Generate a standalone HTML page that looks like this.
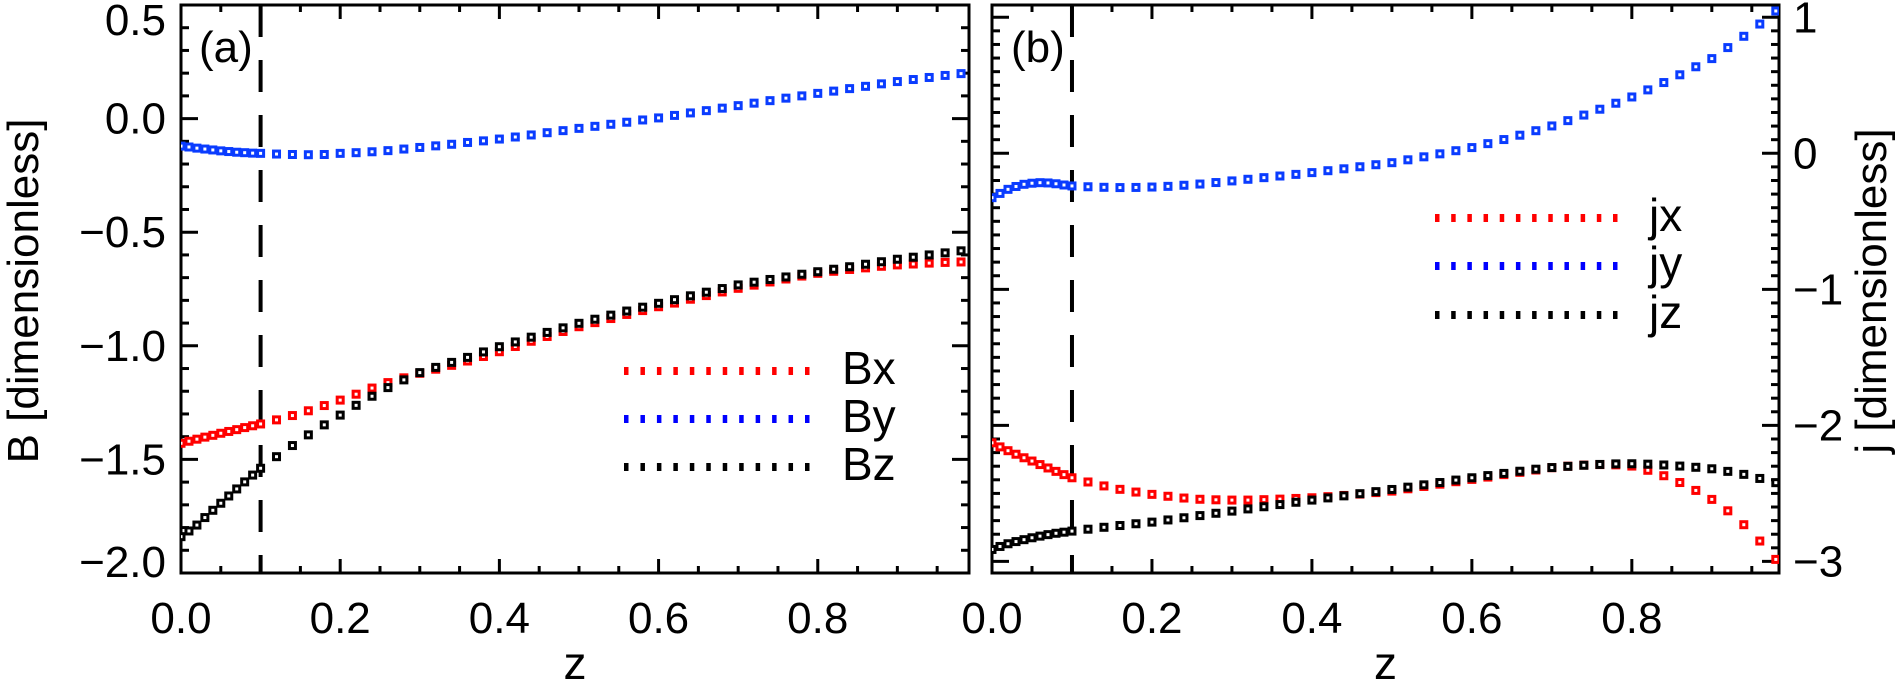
<!DOCTYPE html>
<html><head><meta charset="utf-8">
<style>
html,body{margin:0;padding:0;background:#fff;}
svg{display:block;}
text{font-family:"Liberation Sans",Arial,sans-serif;fill:#000;}
</style></head>
<body>
<svg id="fig" width="1900" height="686" viewBox="0 0 1900 686" xmlns="http://www.w3.org/2000/svg">
<rect width="1900" height="686" fill="#fff"/>
</svg>
<script>
const zGrid=[0,0.01,0.02,0.03,0.04,0.05,0.06,0.07,0.08,0.09,0.10,0.12,0.14,0.16,0.18,0.20,0.22,0.24,0.26,0.28,0.30,0.32,0.34,0.36,0.38,0.40,0.42,0.44,0.46,0.48,0.50,0.52,0.54,0.56,0.58,0.60,0.62,0.64,0.66,0.68,0.70,0.72,0.74,0.76,0.78,0.80,0.82,0.84,0.86,0.88,0.90,0.92,0.94,0.96,0.98];
const Bx=[-1.429,-1.420,-1.411,-1.402,-1.394,-1.385,-1.377,-1.369,-1.360,-1.352,-1.344,-1.326,-1.307,-1.286,-1.263,-1.239,-1.213,-1.186,-1.162,-1.141,-1.121,-1.103,-1.086,-1.067,-1.047,-1.026,-1.003,-0.980,-0.959,-0.937,-0.916,-0.898,-0.880,-0.862,-0.845,-0.828,-0.812,-0.795,-0.779,-0.763,-0.747,-0.733,-0.719,-0.706,-0.693,-0.681,-0.672,-0.664,-0.657,-0.650,-0.644,-0.640,-0.636,-0.633,-0.631];
const By=[-0.121,-0.125,-0.130,-0.134,-0.138,-0.142,-0.145,-0.148,-0.150,-0.152,-0.153,-0.156,-0.158,-0.159,-0.158,-0.153,-0.150,-0.146,-0.141,-0.134,-0.127,-0.120,-0.113,-0.105,-0.098,-0.090,-0.081,-0.072,-0.062,-0.053,-0.043,-0.034,-0.025,-0.016,-0.006,0.003,0.014,0.025,0.035,0.046,0.057,0.068,0.079,0.090,0.100,0.111,0.121,0.132,0.142,0.153,0.163,0.172,0.181,0.190,0.198];
const Bz=[-1.840,-1.815,-1.789,-1.756,-1.724,-1.693,-1.661,-1.630,-1.599,-1.569,-1.539,-1.488,-1.439,-1.392,-1.348,-1.305,-1.262,-1.222,-1.184,-1.150,-1.118,-1.095,-1.073,-1.051,-1.027,-1.004,-0.983,-0.962,-0.941,-0.921,-0.901,-0.883,-0.865,-0.847,-0.830,-0.813,-0.797,-0.780,-0.764,-0.748,-0.732,-0.720,-0.708,-0.697,-0.685,-0.674,-0.663,-0.652,-0.641,-0.630,-0.619,-0.610,-0.600,-0.591,-0.582];
const jx=[-2.128,-2.158,-2.186,-2.212,-2.238,-2.262,-2.288,-2.313,-2.338,-2.362,-2.385,-2.416,-2.445,-2.470,-2.490,-2.507,-2.521,-2.534,-2.543,-2.547,-2.549,-2.549,-2.546,-2.542,-2.537,-2.532,-2.524,-2.515,-2.505,-2.494,-2.483,-2.466,-2.449,-2.432,-2.414,-2.397,-2.380,-2.362,-2.345,-2.328,-2.311,-2.300,-2.292,-2.288,-2.290,-2.299,-2.330,-2.370,-2.420,-2.478,-2.544,-2.628,-2.730,-2.850,-2.985];
const jy=[-0.326,-0.295,-0.265,-0.244,-0.228,-0.220,-0.216,-0.218,-0.224,-0.233,-0.240,-0.246,-0.250,-0.252,-0.251,-0.248,-0.243,-0.235,-0.226,-0.215,-0.203,-0.191,-0.179,-0.167,-0.155,-0.142,-0.128,-0.114,-0.099,-0.084,-0.069,-0.048,-0.026,-0.004,0.019,0.042,0.071,0.101,0.133,0.166,0.201,0.240,0.281,0.324,0.368,0.414,0.466,0.520,0.577,0.636,0.696,0.777,0.860,0.950,1.046];
const jz=[-2.912,-2.890,-2.870,-2.854,-2.840,-2.826,-2.814,-2.803,-2.793,-2.785,-2.777,-2.763,-2.749,-2.736,-2.723,-2.711,-2.695,-2.679,-2.663,-2.646,-2.630,-2.614,-2.598,-2.582,-2.565,-2.549,-2.533,-2.518,-2.502,-2.487,-2.471,-2.454,-2.437,-2.420,-2.402,-2.385,-2.369,-2.353,-2.337,-2.322,-2.310,-2.301,-2.293,-2.287,-2.283,-2.282,-2.285,-2.291,-2.299,-2.308,-2.319,-2.338,-2.360,-2.390,-2.421];
const xTickLabels=["0.0","0.2","0.4","0.6","0.8"];
const bTickLabels=["0.5","0.0","\u22120.5","\u22121.0","\u22121.5","\u22122.0"];
const jTickLabels=["1","0","\u22121","\u22122","\u22123"];

const NS="http://www.w3.org/2000/svg";
const svg=document.getElementById('fig');
function mk(tag,attrs,parent){const e=document.createElementNS(NS,tag);for(const k in attrs)e.setAttribute(k,attrs[k]);(parent||svg).appendChild(e);return e;}
const BLUE="#0a3cff",RED="#ff0000",BLK="#000";

const PA={x0:181,x1:969,y0:5,y1:573,zmax:0.99,vmin:-2.0,vmax:0.5};
const PB={x0:992,x1:1779,y0:5,y1:573,zmax:0.984,vmin:-3.085,vmax:1.09};
function sx(p,z){return p.x0+(z/p.zmax)*(p.x1-p.x0);}
function sy(p,v){return p.y1-(v-p.vmin)/(p.vmax-p.vmin)*(p.y1-p.y0);}

function drawPanel(p,id,yMajorStep,yMinorStep,yStart,yEnd){
  const g=mk('g',{});
  
  
  for(let z=0;z<=p.zmax+1e-9;z+=0.05){
    const major=Math.abs(z/0.2-Math.round(z/0.2))<1e-6;
    const L=major?14:7;const x=sx(p,z);
    mk('line',{x1:x,x2:x,y1:p.y1,y2:p.y1-L,stroke:'#000','stroke-width':3},g);
    mk('line',{x1:x,x2:x,y1:p.y0,y2:p.y0+L,stroke:'#000','stroke-width':3},g);
  }
  const n=Math.round((yEnd-yStart)/yMinorStep);
  for(let i=0;i<=n;i++){
    const v=yStart+i*yMinorStep;
    const r=v/yMajorStep;const major=Math.abs(r-Math.round(r))<1e-6;
    const L=major?17:8;const y=sy(p,v);
    mk('line',{x1:p.x0,x2:p.x0+L,y1:y,y2:y,stroke:'#000','stroke-width':3},g);
    mk('line',{x1:p.x1,x2:p.x1-L,y1:y,y2:y,stroke:'#000','stroke-width':3},g);
  }
  const fr=mk('rect',{x:p.x0,y:p.y0,width:p.x1-p.x0,height:p.y1-p.y0,fill:'none',stroke:'#000','stroke-width':3},g);
  
  
  xTickLabels.forEach((t,i)=>{
    const tx=mk('text',{x:sx(p,i*0.2),y:633,'font-size':44,'text-anchor':'middle'},g);
    tx.textContent=t;
    
    
  });
  const zt=mk('text',{x:(p.x0+p.x1)/2,y:679,'font-size':46,'text-anchor':'middle'},g);
  zt.textContent='z';
  
  
  const dl=mk('line',{x1:sx(p,0.1),x2:sx(p,0.1),y1:p.y0,y2:p.y1,stroke:'#000','stroke-width':4,'stroke-dasharray':'32 23'},g);
  
  
}

function drawSeries(p,vals,color,name){
  const g=mk('g',{'clip-path':'url(#clip-'+name.slice(0,1)+')'});
  
  
  zGrid.forEach((z,i)=>{
    const x=sx(p,z),y=sy(p,vals[i]);
    const r=mk('rect',{x:x-3,y:y-3,width:6,height:6,fill:'#fff',stroke:color,'stroke-width':3},g);
    
    
  });
}

function legend(x0,x1,ys,labels,colors,tx,id){
  labels.forEach((lab,k)=>{
    const g=mk('g',{});
    
    
    for(let i=0;i<12;i++){
      const x=x0+i*(x1-x0)/11;
      mk('rect',{x:x-2,y:ys[k]-4,width:4.5,height:8,fill:colors[k]},g);
    }
    const t=mk('text',{x:tx,y:ys[k]+13,'font-size':46},g);
    t.textContent=lab;
  });
}

const defs=mk('defs',{});
const cA=mk('clipPath',{id:'clip-B'},defs);mk('rect',{x:PA.x0,y:PA.y0,width:PA.x1-PA.x0,height:PA.y1-PA.y0},cA);
const cB=mk('clipPath',{id:'clip-j'},defs);mk('rect',{x:PB.x0,y:PB.y0,width:PB.x1-PB.x0,height:PB.y1-PB.y0},cB);

drawPanel(PA,'panel-a',0.5,0.1,-2.0,0.5);
drawPanel(PB,'panel-b',1,0.1,-3.0,1.0);

bTickLabels.forEach((t,i)=>{
  const v=0.5-0.5*i;
  let y=sy(PA,v)+15;
  if(i===0)y=35; if(i===bTickLabels.length-1)y=577;
  const tx=mk('text',{x:166,y:y,'font-size':44,'text-anchor':'end'});
  tx.textContent=t;
  
  
});
jTickLabels.forEach((t,i)=>{
  const v=1-i;
  const tx=mk('text',{x:1793,y:sy(PB,v)+15,'font-size':44,'text-anchor':'start'});
  tx.textContent=t;
  
  
});
const ylA=mk('text',{x:0,y:0,'font-size':44,'text-anchor':'middle',transform:'translate(38,291) rotate(-90)'});
ylA.textContent='B [dimensionless]';


const ylB=mk('text',{x:0,y:0,'font-size':44,'text-anchor':'middle',transform:'translate(1886,291) rotate(-90)'});
ylB.textContent='j [dimensionless]';



const pa=mk('text',{x:199,y:62,'font-size':44});pa.textContent='(a)';

const pb=mk('text',{x:1011,y:62,'font-size':44});pb.textContent='(b)';


drawSeries(PA,By,BLUE,'By');
drawSeries(PA,Bx,RED,'Bx');
drawSeries(PA,Bz,BLK,'Bz');
drawSeries(PB,jy,BLUE,'jy');
drawSeries(PB,jx,RED,'jx');
drawSeries(PB,jz,BLK,'jz');

legend(626,807,[371,419,467],['Bx','By','Bz'],[RED,'#0000ff',BLK],842,'panel-a');
legend(1437,1615,[218,266,315],['jx','jy','jz'],[RED,'#0000ff',BLK],1649,'panel-b');
</script>
</body></html>
